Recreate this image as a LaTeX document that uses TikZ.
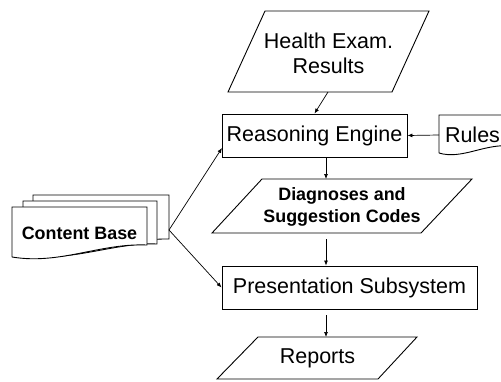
\documentclass[tikz,border=0pt]{standalone}
\usepackage{fontspec}
\setmainfont{Liberation Sans}
\usetikzlibrary{arrows.meta}
\begin{document}
\begin{tikzpicture}[x=1pt,y=-1pt,
  shp/.style={draw=black,line width=0.9pt,fill=white},
  arr/.style={-{Latex[length=5pt,width=4pt]},line width=0.7pt},
  big/.style={font=\fontsize{21.5}{24.5}\selectfont,align=center,inner sep=0pt},
  bld/.style={font=\fontsize{17.9}{22}\selectfont\bfseries,align=center,inner sep=0pt},
  boxn/.style={shp,font=\fontsize{21.5}{24.5}\selectfont,inner sep=0pt}]
\clip (0,0) rectangle (501,381);
\fill[white] (0,0) rectangle (501,381);

% Health exam results
\draw[shp] (265,11) -- (429,11) -- (392,92) -- (228,92) -- cycle;
\node[big] (he) at (328.5,53.5) {Health Exam.\\Results};
\coordinate (heout) at (328,92);

% Reasoning engine
\node[boxn,minimum width=185pt,minimum height=43pt] (re) at (314.5,135.5) {Reasoning Engine};
\coordinate (rein) at (222,148);

% Rules
\draw[shp] (439,153) -- (439,115) -- (512,115) -- (512,146)
  .. controls (485,143) and (462,160) .. (439,153);
\node[big] (rules) at (472.5,135) {Rules};
\coordinate (rulesin) at (439,135);

% Diagnoses
\draw[shp] (262,179) -- (472,179) -- (421,233) -- (212,233) -- cycle;
\node[bld] (dg) at (342,207) {Diagnoses and\\Suggestion Codes};
\coordinate (dgin) at (326,179);
\coordinate (dgout) at (326,233);

% Presentation subsystem
\node[boxn,minimum width=255pt,minimum height=43pt] (ps) at (349.5,287.5) {Presentation Subsystem};

% Reports
\draw[shp] (258,337) -- (417,337) -- (378,379) -- (217,379) -- cycle;
\node[big] (rp) at (317.5,358) {Reports};
\coordinate (rpin) at (326,337);

% Content base (stacked documents)
\draw[shp] (33,250) -- (33,195) -- (169,195) -- (169,239)
  .. controls (130,238) and (80,258) .. (33,250);
\draw[shp] (23,255) -- (23,201) -- (157,201) -- (157,244)
  .. controls (115,242) and (70,263) .. (23,255);
\draw[shp] (12,257) -- (12,207) -- (147,207) -- (147,245)
  .. controls (100,243) and (60,265) .. (12,257);
\node[bld] (cb) at (79.5,233.5) {Content Base};
\coordinate (cbout) at (169,230);

% Connectors
\draw[arr] (heout) -- (re.north);
\draw[arr] (rulesin) -- (re.east);
\draw[arr] (re.south -| dgin) -- (dgin);
\draw[arr,shorten <=6pt] (dgout) -- (ps.north -| dgout);
\draw[arr,shorten <=6pt] (ps.south -| rpin) -- (rpin);
\draw[arr] (cbout) -- (rein);
\draw[arr] (cbout) -- (ps.west);
\end{tikzpicture}
\end{document}
